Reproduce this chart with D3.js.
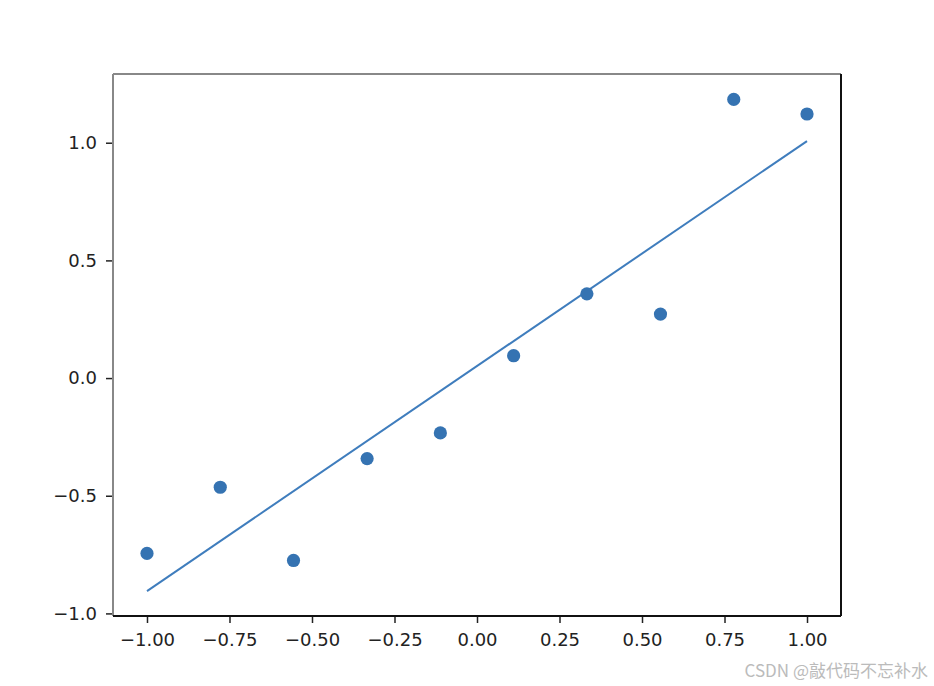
<!DOCTYPE html>
<html>
<head>
<meta charset="utf-8">
<script src="https://cdn.jsdelivr.net/npm/d3@7"></script>
<style>
  html, body { margin: 0; padding: 0; background: #fff; }
  svg { display: block; }
</style>
</head>
<body>
<script>
// ---- data ----
const xValues = [-1.0, -0.778, -0.556, -0.333, -0.111, 0.111, 0.333, 0.556, 0.778, 1.0];
const yValues = [-0.745, -0.464, -0.775, -0.342, -0.233, 0.095, 0.358, 0.272, 1.184, 1.122];
const fitX = [-1.0, 1.0];
const fitY = [-0.905, 1.007];
const xTicks = [-1.0, -0.75, -0.5, -0.25, 0.0, 0.25, 0.5, 0.75, 1.0];
const yTicks = [-1.0, -0.5, 0.0, 0.5, 1.0];
const watermark = "CSDN @敲代码不忘补水";

const W = 934, H = 686;
const mLeft = 113, mRight = 841, mTop = 74, mBottom = 616;

const svg = d3.select("body").append("svg").attr("width", W).attr("height", H);

const x = d3.scaleLinear().domain([-1.103, 1.103]).range([mLeft, mRight]);
const y = d3.scaleLinear().domain([-1.011, 1.292]).range([mBottom, mTop]);

const fmtMinus = s => s.replace("-", "\u2212");

// fit line
svg.append("path")
  .datum(fitX.map((d, i) => [d, fitY[i]]))
  .attr("fill", "none")
  .attr("stroke", "#3f7dbd")
  .attr("stroke-width", 2)
  .attr("d", d3.line().x(d => x(d[0])).y(d => y(d[1])));

// points
svg.append("g").selectAll("circle")
  .data(xValues.map((d, i) => [d, yValues[i]]))
  .join("circle")
  .attr("cx", d => x(d[0]))
  .attr("cy", d => y(d[1]))
  .attr("r", 6.6)
  .attr("fill", "#3573b2");

// x axis
const xAxis = d3.axisBottom(x).tickValues(xTicks).tickSize(7).tickPadding(10)
  .tickFormat(d => fmtMinus(d3.format(".2f")(d)));
const gx = svg.append("g").attr("transform", `translate(0,${mBottom})`).call(xAxis);
gx.select(".domain").remove();
gx.selectAll(".tick line").attr("stroke", "#222").attr("stroke-width", 1.5);
gx.selectAll(".tick text").attr("fill", "#222")
  .style("font-family", "DejaVu Sans").style("font-size", "18px");

// y axis
const yAxis = d3.axisLeft(y).tickValues(yTicks).tickSize(7).tickPadding(9)
  .tickFormat(d => fmtMinus(d3.format(".1f")(d)));
const gy = svg.append("g").attr("transform", `translate(${mLeft},0)`).call(yAxis);
gy.select(".domain").remove();
gy.selectAll(".tick line").attr("stroke", "#222").attr("stroke-width", 1.5);
gy.selectAll(".tick text").attr("fill", "#222")
  .style("font-family", "DejaVu Sans").style("font-size", "18px");

// spines
svg.append("line").attr("x1", mLeft).attr("x2", mRight).attr("y1", mTop).attr("y2", mTop)
  .attr("stroke", "#888").attr("stroke-width", 2);
svg.append("line").attr("x1", mLeft).attr("x2", mLeft).attr("y1", mTop).attr("y2", mBottom)
  .attr("stroke", "#888").attr("stroke-width", 2);
svg.append("line").attr("x1", mLeft).attr("x2", mRight).attr("y1", mBottom).attr("y2", mBottom)
  .attr("stroke", "#111").attr("stroke-width", 2);
svg.append("line").attr("x1", mRight).attr("x2", mRight).attr("y1", mTop).attr("y2", mBottom)
  .attr("stroke", "#111").attr("stroke-width", 2);

// watermark
svg.append("text")
  .attr("x", 928).attr("y", 677)
  .attr("text-anchor", "end")
  .attr("fill", "#bbbbbb")
  .style("font-family", "'Noto Sans CJK SC', 'Noto Sans', sans-serif")
  .style("font-size", "17px")
  .text(watermark);
</script>
</body>
</html>
